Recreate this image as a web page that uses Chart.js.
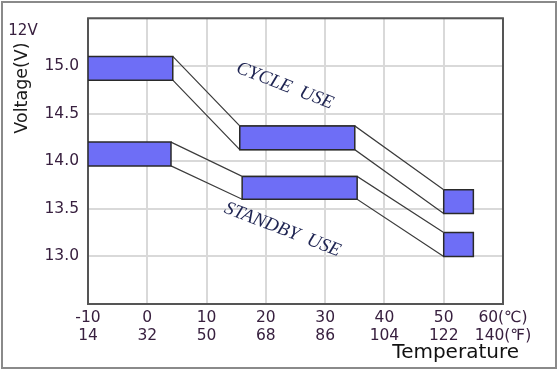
<!DOCTYPE html>
<html>
<head>
<meta charset="utf-8">
<script src="https://cdn.jsdelivr.net/npm/chart.js@4"></script>
<style>
  body { margin: 0; background: #fff; }
  #wrap { width: 560px; height: 372px; }
</style>
</head>
<body>
<div id="wrap"><canvas id="voltChart" width="560" height="372"></canvas></div>
<script>
////////////////// Data ///////////////////////

const xTickTop = ["-10", "0", "10", "20", "30", "40", "50", "60(\u2103)"];
const xTickBottom = ["14", "32", "50", "68", "86", "104", "122", "140(\u2109)"];
const tempC = [-10, 0, 10, 20, 30, 40, 50, 60];
const voltTicks = [13.0, 13.5, 14.0, 14.5, 15.0];

// cycle use: three voltage bands (temp from/to, voltage high/low)
const cycleFrom = [-10, 15.6, 50];
const cycleTo = [4.3, 35, 55];
const cycleHigh = [15.1, 14.37, 13.7];
const cycleLow = [14.85, 14.12, 13.45];

// standby use
const standbyFrom = [-10, 16, 50];
const standbyTo = [4, 35.4, 55];
const standbyHigh = [14.2, 13.84, 13.25];
const standbyLow = [13.95, 13.6, 13.0];

////////////////// Helpers ///////////////////////

const boxFill = "#6e6ef6";
const boxLine = "#2a2a2a";
const linkLine = "#3c3c3c";

const makeBox = function (from, to, high, low) {
  return {
    data: [
      { x: from, y: high },
      { x: to, y: high },
      { x: to, y: low },
      { x: from, y: low },
      { x: from, y: high },
    ],
    fill: "shape",
    backgroundColor: boxFill,
    borderColor: boxLine,
    borderWidth: 1.5,
    pointRadius: 0,
    order: 1,
  };
};

// links from right edge of one band to left edge of the next
const makeLink = function (from, to, vals) {
  const pts = [];
  for (let i = 0; i < vals.length; i++) {
    if (i > 0) pts.push({ x: from[i], y: vals[i] });
    if (i < vals.length - 1) pts.push({ x: to[i], y: vals[i] });
  }
  return {
    data: pts,
    fill: false,
    borderColor: linkLine,
    borderWidth: 1.2,
    pointRadius: 0,
    order: 2,
  };
};

const datasets = [];
for (let i = 0; i < cycleFrom.length; i++) {
  datasets.push(makeBox(cycleFrom[i], cycleTo[i], cycleHigh[i], cycleLow[i]));
  datasets.push(makeBox(standbyFrom[i], standbyTo[i], standbyHigh[i], standbyLow[i]));
}
datasets.push(makeLink(cycleFrom, cycleTo, cycleHigh));
datasets.push(makeLink(cycleFrom, cycleTo, cycleLow));
datasets.push(makeLink(standbyFrom, standbyTo, standbyHigh));
datasets.push(makeLink(standbyFrom, standbyTo, standbyLow));

const tickColor = "#38203f";

////////////////// Extras (frame + labels) ///////////////////////

const bandLabels = [
  { text: "CYCLE  USE", x: 23.2, y: 14.79 },
  { text: "STANDBY  USE", x: 22.8, y: 13.28 },
];

const extrasPlugin = {
  id: "extras",
  beforeDraw(chart) {
    const ctx = chart.ctx;
    ctx.save();
    ctx.fillStyle = "#fff";
    ctx.fillRect(0, 0, chart.width, chart.height);
    ctx.strokeStyle = "#8a8a8a";
    ctx.lineWidth = 2;
    ctx.strokeRect(2, 2, 554, 366);
    ctx.restore();
  },
  beforeDatasetsDraw(chart) {
    const { ctx, chartArea: a } = chart;
    ctx.save();
    ctx.strokeStyle = "#555";
    ctx.lineWidth = 2;
    ctx.strokeRect(a.left, a.top, a.right - a.left, a.bottom - a.top);
    ctx.restore();
  },
  afterDraw(chart) {
    const ctx = chart.ctx;
    const xs = chart.scales.x;
    const ys = chart.scales.y;
    ctx.save();
    ctx.textAlign = "center";
    ctx.textBaseline = "middle";

    ctx.fillStyle = tickColor;
    ctx.font = "15px 'DejaVu Sans'";
    ctx.fillText("12V", 23, 31);

    ctx.fillStyle = "#1a1a1a";
    ctx.font = "17.5px 'DejaVu Sans'";
    ctx.save();
    ctx.translate(22, 88);
    ctx.rotate(-Math.PI / 2);
    ctx.fillText("Voltage(V)", 0, 0);
    ctx.restore();

    ctx.font = "20px 'DejaVu Sans'";
    ctx.textAlign = "right";
    ctx.fillStyle = "#111";
    ctx.fillText("Temperature", 519, 353);

    ctx.textAlign = "center";
    ctx.fillStyle = "#1e2452";
    ctx.font = "italic 19px 'Liberation Serif'";
    bandLabels.forEach((lb) => {
      ctx.save();
      ctx.translate(xs.getPixelForValue(lb.x), ys.getPixelForValue(lb.y));
      ctx.rotate((21 * Math.PI) / 180);
      ctx.fillText(lb.text, 0, 0);
      ctx.restore();
    });
    ctx.restore();
  },
};

////////////////// Chart ///////////////////////

const ctx = document.getElementById("voltChart");
const myChart = new Chart(ctx, {
  type: "line",
  data: { datasets: datasets },
  plugins: [extrasPlugin],
  options: {
    responsive: false,
    animation: false,
    layout: { padding: { top: 13, right: 57, left: 0, bottom: 0 } },
    plugins: {
      legend: { display: false },
      tooltip: { enabled: false },
    },
    scales: {
      x: {
        type: "linear",
        min: -10,
        max: 60,
        afterFit: (s) => { s.height = 68; },
        afterBuildTicks: (s) => { s.ticks = tempC.map((v) => ({ value: v })); },
        border: { display: false },
        grid: { color: "#d9d9d9", lineWidth: 2, drawTicks: false },
        ticks: {
          color: tickColor,
          padding: 5,
          maxRotation: 0,
          autoSkip: false,
          font: { family: "DejaVu Sans", size: 15.5, lineHeight: 1.17 },
          callback: (v) => {
            const i = tempC.indexOf(v);
            return i < 0 ? "" : [xTickTop[i], xTickBottom[i]];
          },
        },
      },
      y: {
        type: "linear",
        min: 12.5,
        max: 15.5,
        afterFit: (s) => { s.width = 88; },
        border: { display: false },
        grid: { color: "#d9d9d9", lineWidth: 2, drawTicks: false },
        ticks: {
          stepSize: 0.5,
          color: tickColor,
          padding: 9,
          font: { family: "DejaVu Sans", size: 15.5 },
          callback: (v) => (voltTicks.includes(v) ? v.toFixed(1) : ""),
        },
      },
    },
  },
});
</script>
</body>
</html>
